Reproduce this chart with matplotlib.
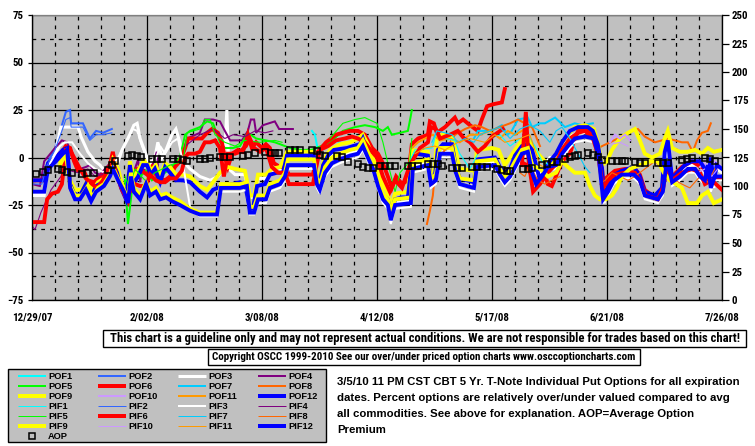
import matplotlib
matplotlib.use('Agg')
import matplotlib.pyplot as plt
from matplotlib import font_manager as fm
from matplotlib.lines import Line2D
from matplotlib.patches import Rectangle
import numpy as np

def pick(fams):
    for f in fams:
        try:
            fm.findfont(fm.FontProperties(family=f), fallback_to_default=False)
            return f
        except Exception:
            pass
    return 'DejaVu Sans'

NARROW = pick(['Liberation Sans Narrow', 'Arial Narrow', 'Roboto Condensed', 'DejaVu Sans Condensed',
               'Noto Sans Condensed', 'Roboto', 'Liberation Sans'])
SANS = pick(['Liberation Sans', 'Arial', 'DejaVu Sans'])

# ---------------- data (x = days since 12/29/07, y = percent) ----------------
date_ticks = [0, 35, 70, 105, 140, 175, 210]
date_labels = ["12/29/07", "2/02/08", "3/08/08", "4/12/08", "5/17/08", "6/21/08", "7/26/08"]
left_ticks = [-75, -50, -25, 0, 25, 50, 75]
right_ticks = [0, 25, 50, 75, 100, 125, 150, 175, 200, 225, 250]

POF1 = [(85.2, 14), (86.1, 12), (87.0, 4), (88.2, 5), (90.1, 7), (92.2, 9), (93.7, 8)]
PIF1 = [(115.0, -2), (116.5, 4), (121.7, 5), (122.9, 12), (125.7, 10), (128.7, 9), (130.2, 2), (133.3, -6),
        (135.7, 2), (139.4, 10), (142.4, 12), (145.5, 6), (148.5, 10), (150.9, 12), (153.1, 6), (155.2, -2), (157.6, -4)]
POF2 = [(0, -12), (3.0, -12), (4.6, -3), (7.0, 5), (9.1, 17), (10.3, 24), (11.6, 25), (11.9, 18), (15.5, 18),
        (17.6, 10), (19.5, 14), (21.6, 13), (24.3, 15)]
PIF2 = [(0, -14), (3.0, -14), (4.6, -4), (7.0, 4), (9.1, 14), (10.3, 20), (11.6, 21), (11.9, 16), (15.5, 16),
        (17.6, 9), (19.5, 12), (21.6, 12), (24.3, 13)]
POF3 = [(0, -20), (3.7, -20), (4.9, -6), (7.0, 2), (8.8, 16), (14.0, 16), (14.9, 11), (17.0, 3), (19.2, -2),
        (20.7, -4), (22.5, -8), (23.7, -10), (24.6, -5), (25.9, -4), (27.4, 4), (29.2, 10), (31.0, 17), (32.0, 18),
        (32.9, 10), (34.4, 3), (35.9, -4), (37.4, 0), (38.3, 8), (39.6, 0), (40.8, 4), (42.6, 12), (43.8, 15),
        (45.0, 8), (46.0, -2), (48.1, -6), (51.1, -10), (54.2, -12), (56.6, -10), (58.4, -6), (59.3, 25), (59.9, -6),
        (61.8, -9), (64.8, -9), (66.3, -21), (67.6, -21), (68.8, -11), (71.2, -11), (73.0, -8), (75.5, -7),
        (77.6, -1), (85.8, -1), (86.7, -14), (87.6, -17), (89.2, -7), (91.3, 1), (95.2, 2), (98.3, 3), (100.7, 7),
        (102.2, 1), (103.8, -5), (105.3, -14), (106.8, -21), (108.3, -24), (109.2, -33), (110.5, -24), (115.3, -23),
        (115.9, -4), (120.5, -2), (121.4, -13), (122.9, -12), (124.2, 3), (127.8, 3), (129.0, -7), (130.2, -15),
        (134.5, -15), (135.4, -3), (140.9, -2), (142.4, -7), (143.9, -12), (145.5, -9), (147.0, -3), (149.1, 4),
        (150.9, 5), (152.2, -6), (154.0, -10), (156.1, -4), (157.6, 0), (159.5, 0), (161.3, 5), (163.7, 11),
        (166.2, 13), (169.2, 13), (170.7, 11), (172.2, 4), (173.5, -9), (174.1, -24), (175.3, -17), (177.4, -11),
        (179.5, -9), (183.2, -7), (185.0, -12), (186.5, -20), (189.6, -22), (191.7, -18), (192.6, 0), (193.5, 6),
        (194.8, -13), (198.7, -6), (200.8, -4), (203.3, -4), (204.8, -8), (205.7, -13), (206.6, -2), (207.5, -16),
        (208.4, -6), (210, -8)]
PIF3 = [(0, -19), (3.7, -19), (5.5, -3), (8.5, 6), (10.0, 8), (12.2, 8), (14.6, 2), (17.0, -3), (19.2, -6),
        (22.2, -8), (23.7, -6), (26.2, 0), (28.6, 8), (30.7, 15), (32.0, 14), (33.5, 6), (35.3, -2), (37.4, -2),
        (39.0, 6), (40.5, 2), (42.6, 8), (44.4, 10), (45.6, 0), (48.1, -26), (51.1, -31), (56.3, -31), (57.5, -18),
        (63.3, -18), (65.4, -17), (66.3, -30), (67.6, -30), (68.8, -24), (71.2, -24), (72.4, -18), (75.5, -16),
        (77.0, -12), (77.9, -6), (85.8, -6), (86.7, -16), (87.6, -19), (89.2, -10), (91.3, -5), (93.7, -3),
        (96.8, -1), (99.2, 0), (100.7, 4), (102.2, -2), (103.8, -8), (105.3, -17), (106.8, -24), (108.3, -27),
        (109.2, -35), (110.5, -27), (115.3, -26), (115.9, -8), (120.5, -6), (121.4, -16), (122.9, -14), (124.2, 0),
        (127.8, 0), (129.0, -10), (130.2, -16), (134.5, -18), (135.4, -7), (140.9, -6), (142.4, -11), (143.9, -15),
        (145.5, -12), (147.0, -7), (149.1, 0), (150.9, 1), (152.2, -10), (153.4, -16), (155.2, -12), (157.0, -7),
        (159.5, -6), (161.3, 0), (163.1, 4), (165.2, 8), (168.3, 9), (171.0, 8), (172.5, -2), (173.8, -24),
        (175.3, -20), (177.1, -14), (179.5, -11), (183.2, -11), (185.0, -14), (186.5, -22), (190.5, -24),
        (192.0, -20), (192.9, -8), (193.5, -4), (194.8, -15), (197.2, -12), (199.6, -8), (201.8, -8), (203.3, -12),
        (204.8, -14), (205.7, -6), (206.6, -18), (207.8, -12), (210, -12)]
POF4 = [(0, -14), (2.4, -15), (3.7, -2), (7.0, 5), (9.1, 9), (10.7, 8), (12.2, 0), (14.6, -6), (16.4, -5),
        (17.6, -4), (19.2, -8), (20.7, -9), (22.2, -6), (23.7, -3), (25, None), (31.3, -6), (32.3, -1), (32.9, -13),
        (33.5, -6), (35.9, -8), (38.0, 3), (38.6, -10), (40.5, -6), (43.5, -4), (46.0, 2), (47.2, 10), (51.1, 13),
        (52.6, 20), (55.1, 20), (57.2, 19), (58.7, 14), (60.3, 9), (63.9, 9), (65.7, 14), (66.6, 20), (67.6, 20),
        (68.2, 13), (70.3, 17), (73.9, 19), (75.2, 15), (79.4, 15)]
PIF4 = [(0, -36), (0.9, -38), (2.7, -29), (5.8, -17), (8.8, -10), (10.3, -4), (11.6, -7), (14.0, -8), (17.0, -6),
        (19.2, -10), (21.3, -9), (23.7, -5), (25, None), (46.6, 6), (51.1, 12), (55.1, 15), (58.7, 10), (61.2, 12),
        (64.8, 11), (67.9, 14), (70.9, 13), (73.3, 14)]
POF5 = [(28.3, -12), (29.2, -35), (30.1, -22), (31.0, -8), (32.9, -10), (34.7, -7), (36.5, -12), (38.3, -10),
        (40.5, -8), (42.6, -5), (45.0, 0), (46.6, 12), (48.1, 14), (51.1, 16), (53.3, 19), (55.1, 18), (57.2, 8),
        (58.7, 5), (61.2, 5), (63.3, 6), (65.7, 13), (68.2, 10), (71.2, 9), (73.9, 8), (75.5, 7), (78.5, 5),
        (81.6, 4), (85.0, 4), (88.0, 6), (90.7, 8), (94.6, 14), (98.3, 16), (101.3, 17), (104.4, 16), (106.8, 14),
        (108.3, 16), (109.5, 12), (112.0, 13), (114.4, 14), (115.3, 22), (115.6, 25)]
PIF5 = [(28.3, -10), (29.8, -16), (31.3, -6), (34.4, -12), (37.4, -8), (42.0, -4), (46.0, -2), (47.2, 13),
        (51.1, 15), (52.6, 20), (54.2, 20), (55.7, 12), (58.7, 8), (61.8, 6), (64.8, 9), (69.4, 8), (73.9, 9),
        (76.1, 8), (77, None), (90.7, 10), (94.6, 18), (98.3, 20), (101.3, 21), (105.0, 18), (106.8, 8),
        (108.3, -3), (110.5, -18), (112.0, -8), (115.0, -2), (115.6, 10)]
POF6 = [(0, -12), (3.7, -12), (4.9, -4), (7.0, 0), (9.1, 3), (10.3, 6), (11.6, 5), (12.8, -2), (14.0, -7),
        (15.8, -7), (17.0, -12), (18.9, -13), (20.7, -10), (22.5, -8), (23.7, -4), (24.6, 3), (25.9, -9),
        (27.4, -15), (28.9, -20), (29.8, -18), (30.7, -8), (32.0, -6), (33.5, -7), (35.0, -9), (36.5, -5),
        (37.7, -9), (39.0, -11), (40.5, -12), (42.0, -10), (43.5, -5), (45.0, -2), (46.6, 5), (47.5, 10),
        (49.6, 10), (51.7, 10), (53.3, 13), (54.8, 15), (56.6, 13), (57.8, 8), (58.7, 0), (59.6, -5), (60.9, 2),
        (62.7, 4), (64.2, 3), (65.7, 12), (66.9, 5), (68.2, 8), (70.0, 5), (71.2, 7), (72.4, 5), (73.6, -3),
        (75.5, -5), (77.0, -5), (78.2, -9), (85.5, -9), (87.0, 3), (89.5, 8), (92.5, 12), (94.6, 13), (96.8, 14),
        (99.2, 14), (101.3, 12), (103.5, 5), (105.3, 2), (106.8, -3), (108.3, -10), (109.5, -16), (110.8, -10),
        (112.6, -14), (114.4, -12), (115.6, 7), (117.5, 10), (120.5, 12), (121.1, 19), (122.3, 18), (123.2, 13),
        (125.7, 16), (128.7, 21), (129.6, 18), (131.2, 20), (133.3, 17), (135.7, 14), (136.9, 20), (138.5, 27),
        (140.3, 28), (143.0, 29), (143.9, 36), (146, None), (148.5, -2), (150.6, -4), (152.2, -10), (154.0, -12),
        (156.1, -9), (157.0, -14), (158.2, -15), (159.2, -11), (161.3, -2), (163.7, 2), (165.2, 10), (166.2, 14),
        (168.3, 15), (170.7, 12), (172.2, 5), (173.5, -6), (173.8, -12), (175.3, -10), (177.4, -7), (180.5, -6),
        (183.5, -6), (185.0, -9), (186.5, -17), (188.7, -20), (191.1, -21), (192.0, -17), (193.2, -4), (194.1, -6),
        (194.8, -10), (197.8, -5), (200.8, -2), (202.7, -4), (204.8, -6), (205.7, -11), (206.9, -9), (208.7, -11),
        (210, -11)]
PIF6 = [(0, -34), (3.7, -34), (4.6, -22), (6.1, -19), (7.9, -18), (9.1, -14), (10.3, 4), (11.6, 4), (12.8, 0),
        (14.6, -6), (16.4, -11), (18.3, -14), (19.8, -16), (21.6, -12), (23.1, -6), (24.6, -2), (25.9, -10),
        (27.4, -17), (29.2, -23), (30.1, -13), (31.3, -14), (32.9, -15), (34.7, -15), (35.9, -9), (37.7, -12),
        (39.0, -13), (40.5, -13), (42.0, -11), (43.8, -11), (45.6, -7), (46.6, 0), (47.5, 2), (49.6, 2), (51.1, 3),
        (52.6, 8), (54.2, 8), (55.7, 9), (57.2, 5), (58.4, -10), (59.6, 2), (61.8, 2), (63.3, 3), (65.1, 6),
        (66.3, 10), (67.6, 5), (69.4, 3), (71.2, 5), (73.0, -5), (74.9, -8), (77.0, -8), (78.2, -14), (85.5, -14),
        (86.4, -6), (87.6, 4), (90.1, 6), (92.5, 9), (95.2, 10), (97.4, 11), (99.2, 10), (101.3, 8), (103.5, 3),
        (105.0, 0), (106.8, -10), (108.9, -18), (110.5, -12), (112.6, -16), (113.8, -10), (115.0, -4), (118.1, 5),
        (120.5, 8), (121.4, 16), (122.9, 15), (124.2, 10), (127.2, 12), (129.6, 14), (131.5, 10), (133.3, 8),
        (135.7, 3), (137.8, 6), (140.0, 11), (143.3, 15), (146, None), (149.1, -4), (150.3, 24), (151.2, -3),
        (152.5, -18), (154.6, -14), (157.0, -8), (159.2, -4), (161.3, 4), (163.7, 10), (166.2, 13), (168.3, 14),
        (170.7, 10), (172.2, 2), (173.8, -16), (175.3, -12), (177.4, -9), (180.5, -8), (183.5, -8), (185.0, -12),
        (186.8, -20), (190.5, -22), (192.0, -16), (193.2, -6), (194.8, -12), (197.8, -8), (200.8, -6), (203.3, -8),
        (204.8, -14), (206.9, -12), (210, -17)]
POF7 = [(134.5, 10), (135.7, 14), (138.8, 14), (140.9, 15), (143.0, 17), (144.8, 12), (146.0, 14), (147.9, 20),
        (150.9, 21), (152.2, 16), (154.6, 18), (156.1, 18), (159.2, 21), (162.2, 16), (165.2, 18), (167.4, 17),
        (170.7, 18)]
PIF7 = [(121.7, 8), (123.2, 14), (125.7, 13), (127.8, 12), (129.6, 8), (131.8, 10), (134.5, 8), (136.3, 12),
        (139.4, 14), (142.4, 16), (145.5, 10), (148.5, 15), (151.5, 17), (154.6, 14), (157.6, 8), (159.5, 14),
        (161.3, 16), (163.7, 10), (166.2, 2), (168.3, -5), (169.8, -8)]
POF8 = [(120.2, -35), (121.1, -28), (122.0, -20), (122.6, -8), (123.2, 0), (124.8, 2), (126.6, 6), (128.7, 12),
        (131.8, 15), (134.8, 17), (136.9, 16), (139.4, 14), (142.4, 16), (145.5, 18), (147.9, 20), (150.0, 18),
        (152.2, 16), (154.6, 6), (160, None), (171.3, 4), (173.5, 6), (175.9, 8), (178.3, 10), (181.4, 13),
        (184.4, 15), (186.5, 11), (189.6, 8), (191.7, 9), (193.5, 10), (195.7, 9), (197.8, 8), (199.6, 8),
        (201.1, 3), (202.4, 9), (203.9, 13), (205.7, 14), (206.6, 18)]
PIF8 = [(148.5, -8), (150.0, -10), (151.5, -4), (154.0, -12), (156.1, -14), (158.2, -12), (160.7, -10),
        (165, None), (172.8, -14), (174.4, -12), (176.5, -8), (178.9, -10), (181.4, -12), (183.5, -10),
        (186.5, -6), (189.6, -2), (192.6, -8), (195.7, -12), (197.8, -14), (200.2, -16), (203.3, -10),
        (205.7, -13), (207.8, -6)]
POF9 = [(8.5, -2), (10.3, 3), (11.6, -12), (13.1, -17), (15.2, -17), (17.0, -12), (18.3, -18), (20.1, -13),
        (21.9, -11), (23.7, -6), (24.6, -1), (26.2, -6), (27.4, -14), (28.9, -19), (29.8, -2), (31.0, -10),
        (32.3, -7), (33.8, -2), (35.0, -2), (36.2, -7), (37.7, -4), (39.0, -10), (40.5, -3), (42.0, -5), (43.8, -9),
        (46.0, -9), (48.1, -10), (51.1, -15), (53.3, -17), (55.1, -13), (57.2, -8), (59.6, -5), (61.8, -6),
        (64.8, -7), (66.3, -20), (67.6, -20), (68.8, -9), (71.2, -9), (73.0, -6), (75.5, -5), (77.6, 3), (85.8, 3),
        (86.7, -8), (87.6, -10), (88.9, -1), (90.7, 4), (93.7, 7), (96.8, 8), (99.2, 10), (100.7, 12), (102.2, 7),
        (103.8, 0), (105.3, -8), (106.8, -14), (108.3, -19), (109.2, -26), (110.5, -19), (114.4, -18), (115.6, 4),
        (120.5, 3), (121.4, -8), (122.6, -6), (123.2, 10), (124.8, 12), (127.8, 11), (128.7, 6), (129.6, -2),
        (130.2, -6), (134.8, -7), (135.4, 4), (140.0, 5), (142.0, 4), (143.9, -4), (145.5, 0), (147.0, 4),
        (149.1, 9), (150.9, 10), (152.2, 7), (154.0, 2), (156.1, -2), (157.6, -4), (159.5, 0), (161.3, 8),
        (163.1, 12), (165.2, 16), (168.3, 17), (171.0, 15), (172.2, 8), (173.5, -4), (175.0, -2), (176.5, 4),
        (178.9, 10), (181.4, 13), (183.5, 15), (185.0, 9), (186.5, 2), (188.7, 0), (191.1, 2), (192.6, 10),
        (193.5, 14), (194.8, 5), (197.2, 3), (199.6, 3), (201.8, 4), (203.9, 2), (205.7, 5), (207.5, 3), (210, 4)]
PIF9 = [(8.5, -4), (10.3, 2), (11.6, -15), (13.1, -20), (15.2, -20), (17.0, -15), (18.3, -21), (20.1, -16),
        (21.9, -14), (23.7, -9), (24.6, -5), (26.2, -11), (28.0, -17), (29.2, -22), (30.1, -8), (31.0, -16),
        (32.9, -20), (34.7, -13), (35.9, -18), (37.7, -16), (39.0, -20), (40.8, -19), (42.6, -21), (45.0, -23),
        (48.1, -27), (51.1, -29), (56.3, -29), (57.5, -14), (63.3, -14), (65.4, -13), (66.3, -26), (67.6, -26),
        (68.8, -20), (71.2, -20), (72.4, -14), (75.5, -12), (77.0, -8), (77.9, -1), (85.8, -1), (86.7, -11),
        (87.6, -14), (89.2, -5), (91.3, 0), (93.7, 2), (96.8, 4), (99.2, 5), (100.7, 9), (102.2, 3), (103.8, -3),
        (105.3, -12), (106.8, -19), (108.3, -22), (109.2, -29), (110.5, -22), (115.3, -21), (115.9, -3),
        (120.5, -1), (121.4, -11), (122.9, -9), (124.2, 5), (127.8, 5), (129.0, -5), (130.2, -11), (134.5, -12),
        (135.4, -2), (140.9, -1), (142.4, -6), (143.9, -10), (145.5, -7), (147.0, -2), (149.1, 4), (150.9, 5),
        (152.2, -4), (154.6, -6), (157.0, -10), (159.5, -8), (161.3, -2), (163.1, -5), (165.2, -8), (168.3, -8),
        (169.8, -15), (171.3, -20), (172.8, -22), (174.7, -22), (176.5, -20), (178.0, -16), (179.5, -10),
        (182.0, -6), (185.0, -4), (188.1, -2), (190.5, -2), (192.3, -8), (194.1, -12), (196.0, -14), (197.8, -16),
        (199.6, -24), (202.4, -24), (203.9, -20), (205.7, -18), (207.5, -24), (210, -22)]
POF10 = [(175.9, 8), (177.4, 12), (178.9, 10), (180.5, 12), (182.0, 9), (190, None), (203.3, -5), (204.8, -3),
         (206.3, -6), (207.8, -2), (209.3, -4)]
PIF10 = [(176.5, 7), (178.9, 8), (181.4, 6), (190, None), (202.7, -8), (204.8, -6), (206.9, -10), (208.7, -6)]
POF11 = [(115.6, 5), (117.5, 8), (119.6, 10), (122.0, 12), (124.2, 9), (127.2, 10), (130.2, 8), (133.3, 12),
         (136.3, 12), (139.4, 14), (142.4, 10), (144.8, 14), (147.0, 12), (149.1, 14), (151.5, 16)]
PIF11 = [(116.5, 2), (119.6, 5), (122.6, 6), (125.7, 4), (129.6, 8), (133.3, 10), (137.8, 8), (140.9, 12),
         (143.9, 8), (148.5, 10), (151.5, 12), (154.6, -4), (157.0, -6)]
POF12 = [(0, -12), (3.7, -12), (4.9, -3), (7.3, 0), (9.4, 4), (10.7, 5), (11.6, -14), (12.8, -19), (14.6, -20),
         (16.4, -14), (18.0, -21), (19.5, -15), (21.6, -13), (23.1, -8), (24.6, -3), (25.9, -8), (27.1, -16),
         (28.6, -22), (29.8, -4), (30.7, -14), (32.3, -10), (33.8, -4), (35.0, -4), (36.2, -9), (37.4, -6),
         (39.0, -13), (40.5, -5), (42.0, -8), (43.8, -12), (46.0, -12), (48.1, -13), (51.1, -18), (53.3, -21),
         (55.1, -17), (57.8, -15), (60.9, -14), (63.3, -13), (64.8, -14), (66.3, -27), (67.2, -27), (68.5, -15),
         (70.9, -14), (72.4, -9), (74.6, -8), (76.4, -8), (77.6, 1), (85.8, 1), (86.7, -12), (87.3, -15),
         (88.6, -4), (90.1, 1), (91.9, 4), (95.9, 5), (97.7, 6), (99.8, 7), (100.7, 10), (101.9, 4), (103.5, -3),
         (105.0, -12), (106.5, -19), (108.3, -22), (109.2, -31), (110.5, -22), (112.6, -21), (114.4, -21),
         (115.6, -2), (116.9, 2), (120.5, 1), (121.4, -11), (122.6, -10), (123.5, 4), (125.1, 7), (127.8, 7),
         (129.0, -5), (130.2, -11), (134.5, -13), (135.4, -1), (140.9, 0), (142.4, -5), (143.9, -8), (145.5, -6),
         (147.0, 1), (149.1, 6), (150.9, 7), (152.2, 4), (153.4, -4), (154.6, -12), (156.1, -6), (157.6, -2),
         (159.5, 2), (161.3, 8), (163.7, 14), (166.2, 16), (169.2, 16), (170.7, 14), (172.2, 7), (173.5, -6),
         (174.1, -22), (175.3, -15), (177.4, -9), (179.5, -7), (183.2, -5), (185.0, -10), (186.5, -18),
         (189.6, -20), (191.7, -16), (192.6, 3), (193.5, 9), (194.8, -11), (198.7, -4), (200.8, -2), (203.3, -2),
         (204.8, -6), (205.7, -11), (206.6, 0), (207.5, -14), (208.4, -4), (210, -6)]
PIF12 = [(0, -18), (3.7, -18), (4.9, -6), (7.3, -2), (9.4, 2), (10.7, 4), (11.6, -16), (13.1, -22), (14.6, -22),
         (16.4, -17), (18.0, -23), (19.5, -18), (21.9, -15), (23.7, -10), (24.6, -6), (26.2, -12), (28.0, -18),
         (29.2, -24), (30.1, -10), (31.0, -18), (32.9, -22), (34.7, -14), (35.9, -20), (37.7, -18), (39.0, -22),
         (40.8, -21), (42.6, -23), (45.0, -25), (48.1, -28), (51.1, -30), (56.3, -30), (57.5, -16), (63.3, -16),
         (65.4, -15), (66.3, -29), (67.6, -29), (68.8, -22), (71.2, -22), (72.4, -16), (75.5, -14), (77.0, -10),
         (77.9, -4), (85.8, -4), (86.7, -14), (87.6, -17), (89.2, -8), (91.3, -3), (93.7, -1), (96.8, 1),
         (99.2, 2), (100.7, 6), (102.2, 0), (103.8, -6), (105.3, -15), (106.8, -22), (108.3, -25), (109.2, -33),
         (110.5, -25), (115.3, -24), (115.9, -6), (120.5, -4), (121.4, -14), (122.9, -12), (124.2, 2), (127.8, 2),
         (129.0, -8), (130.2, -14), (134.5, -16), (135.4, -5), (140.9, -4), (142.4, -9), (143.9, -13),
         (145.5, -10), (147.0, -5), (149.1, 2), (150.9, 3), (152.2, -8), (153.4, -14), (155.2, -10), (157.0, -5),
         (159.5, -4), (161.3, 2), (163.1, 6), (165.2, 10), (168.3, 11), (171.0, 10), (172.5, 0), (173.8, -22),
         (175.3, -18), (177.1, -12), (179.5, -9), (183.2, -9), (185.0, -12), (186.5, -20), (190.5, -22),
         (192.0, -18), (192.9, -6), (193.5, -2), (194.8, -13), (197.2, -10), (199.6, -6), (201.8, -6),
         (203.3, -10), (204.8, -12), (205.7, -4), (206.6, -16), (207.8, -10), (210, -10)]
# Average option premium (right axis)
AOP = [(1.2, 110.4), (3.3, 112.2), (4.9, 113.6), (7.9, 114.5), (9.1, 113.9), (10.7, 112.2), (12.2, 111.3),
       (15.2, 110.4), (16.7, 111), (18.9, 111), (23.1, 113.9), (24.3, 118), (25.3, 122.1), (29.2, 126.2),
       (30.4, 127.6), (32.0, 126.7), (33.2, 125.6), (36.5, 123.8), (38.0, 123.8), (39.6, 124.1), (42.9, 123.8),
       (44.4, 123.8), (46.0, 122.7), (47.2, 122.1), (51.1, 123.3), (52.6, 124.1), (54.2, 124.4), (57.2, 125.6),
       (58.4, 125.6), (60.3, 125.3), (64.2, 126.2), (65.7, 127.6), (67.9, 129), (70.9, 130), (72.7, 129),
       (73.9, 129), (75.2, 129), (78.5, 132), (80.0, 132), (81.6, 131.7), (85.2, 132), (86.7, 130.5),
       (87.6, 127.6), (89.2, 126.7), (92.8, 126.7), (94.3, 125.6), (96.2, 120.9), (99.2, 119.5), (100.7, 116.5),
       (102.2, 116), (103.8, 115.7), (105.9, 117.4), (107.4, 117.8), (108.9, 117.8), (110.5, 117.8),
       (114.4, 117.8), (115.6, 117.8), (117.5, 117.8), (120.5, 119), (122.0, 119), (123.5, 119), (124.8, 117.8),
       (127.8, 116.1), (129.3, 116.1), (130.9, 116.1), (133.9, 117), (135.4, 117), (136.9, 117), (138.5, 117),
       (141.5, 114.5), (143.0, 113.9), (144.5, 113.3), (145.5, 113.3), (149.4, 114.8), (150.9, 114.8),
       (152.2, 115.5), (155.2, 118), (156.7, 119.5), (158.2, 121), (159.8, 121), (162.2, 123.8), (163.7, 125.3),
       (165.2, 126.5), (166.2, 127.6), (169.2, 129), (170.7, 127.3), (172.2, 125.3), (173.5, 122.7),
       (176.5, 122), (178.0, 122), (179.5, 122), (180.5, 122), (183.5, 121.3), (185.0, 120.5), (186.5, 120.5),
       (190.5, 120.5), (192.0, 120.1), (193.5, 120.5), (197.8, 122.7), (199.3, 123.7), (200.8, 124.7),
       (204.8, 124.7), (206.3, 123.3), (207.8, 122)]

# ---------------- styles ----------------
THICK, WHITE_W, MED, THIN = 2.8, 2.2, 1.45, 0.8
series = [
    ('POF1', POF1, '#00FFFF', MED), ('POF2', POF2, '#3366FF', MED), ('POF3', POF3, '#FFFFFF', WHITE_W),
    ('POF4', POF4, '#800080', MED), ('POF5', POF5, '#00FF00', MED), ('POF6', POF6, '#FF0000', THICK),
    ('POF7', POF7, '#00CCFF', MED), ('POF8', POF8, '#FF6600', MED), ('POF9', POF9, '#FFFF00', THICK),
    ('POF10', POF10, '#CC99FF', MED), ('POF11', POF11, '#FF9900', MED), ('POF12', POF12, '#0000FF', THICK),
    ('PIF1', PIF1, '#00FFFF', THIN), ('PIF2', PIF2, '#3366FF', THIN), ('PIF3', PIF3, '#FFFFFF', MED),
    ('PIF4', PIF4, '#800080', THIN), ('PIF5', PIF5, '#00FF00', THIN), ('PIF6', PIF6, '#FF0000', THICK),
    ('PIF7', PIF7, '#00CCFF', THIN), ('PIF8', PIF8, '#FF6600', THIN), ('PIF9', PIF9, '#FFFF00', THICK),
    ('PIF10', PIF10, '#CC99FF', THIN), ('PIF11', PIF11, '#FF9900', THIN), ('PIF12', PIF12, '#0000FF', THICK),
]

W, H = 755, 446
fig = plt.figure(figsize=(W / 100, H / 100), dpi=100)
fig.patch.set_facecolor('white')

def fx(px):
    return px / W

def fy(py):
    return 1 - py / H

ax = fig.add_axes([fx(32), fy(300), 690 / W, 285 / H])
ax.set_facecolor('#C0C0C0')
ax.set_xlim(0, 210)
ax.set_ylim(-75, 75)
ax.set_xticks(date_ticks)
ax.set_xticklabels(date_labels)
ax.set_xticks([d for d in range(7, 210, 7) if d % 35], minor=True)
ax.set_yticks(left_ticks)
ax.set_yticks([-62.5, -37.5, -12.5, 12.5, 37.5, 62.5], minor=True)
ax.grid(which='major', color='black', lw=0.9, ls='-')
ax.grid(which='minor', color='black', lw=0.9, ls=(0, (3, 4)))
ax.set_axisbelow(True)
ax.tick_params(which='minor', length=0)
ax.tick_params(axis='x', which='major', length=0, pad=9)
ax.tick_params(axis='y', which='major', length=3, width=0.9, pad=3, direction='out')
for sp in ['left', 'bottom', 'right']:
    ax.spines[sp].set_color('black')
    ax.spines[sp].set_linewidth(0.9)
ax.spines['top'].set_color('#808080')
ax.spines['top'].set_linewidth(0.9)

for name, pts, col, lw in series:
    d = np.array([p[0] for p in pts], dtype=float)
    v = np.array([np.nan if p[1] is None else p[1] for p in pts], dtype=float)
    ax.plot(d, v, color=col, lw=lw, solid_joinstyle='miter', zorder=3)

ax2 = ax.twinx()
ax2.set_ylim(0, 250)
ax2.set_yticks(right_ticks)
ax2.tick_params(axis='y', length=5, width=0.9, pad=2, direction='out')
ax2.spines['right'].set_color('black')
ax2.spines['top'].set_visible(False)
ax2.patch.set_visible(False)
ax2.plot([p[0] for p in AOP], [p[1] for p in AOP], ls='none', marker='s', ms=4.8,
         mfc='none', mec='black', mew=1.1, zorder=5)

for lab in ax.get_xticklabels() + ax.get_yticklabels() + ax2.get_yticklabels():
    lab.set_fontfamily(NARROW)
    lab.set_fontweight('bold')
    lab.set_fontsize(7.8)

renderer = fig.canvas.get_renderer()

def fit_text(xc, yc, s, width_px, ha='center', **kw):
    t = fig.text(fx(xc), fy(yc), s, ha=ha, va='center', **kw)
    bb = t.get_window_extent(renderer)
    t.set_fontsize(t.get_fontsize() * width_px / bb.width)
    return t

# disclaimer boxes
fig.add_artist(Rectangle((fx(103), fy(347)), 643 / W, 17 / H, transform=fig.transFigure,
                         fc='white', ec='black', lw=1))
fit_text(424.5, 338.5, "This chart is a guideline only and may not represent actual conditions. "
         "We are not responsible for trades based on this chart!", 632,
         family=NARROW, weight='bold', fontsize=9)
fig.add_artist(Rectangle((fx(208), fy(365)), 432 / W, 16 / H, transform=fig.transFigure,
                         fc='white', ec='black', lw=1))
fit_text(424, 357, "Copyright OSCC 1999-2010 See our over/under priced option charts www.osccoptioncharts.com",
         424, family=NARROW, weight='bold', fontsize=9)

# legend box
fig.add_artist(Rectangle((fx(8), fy(442)), 318 / W, 73 / H, transform=fig.transFigure,
                         fc='#C0C0C0', ec='black', lw=1))
col_x = [18, 98, 178, 258]
row_y = [376.2, 386.2, 396.2, 406.2, 416.2, 426.2]
px2pt = 0.72
leg_w = {THICK: 4, WHITE_W: 3, MED: 2, THIN: 1}
LEG_FS = 6.7
for i, (name, pts, col, lw) in enumerate(series):
    r, c = divmod(i, 4)
    y = row_y[r]
    fig.add_artist(Line2D([fx(col_x[c]), fx(col_x[c] + 28)], [fy(y), fy(y)], transform=fig.transFigure,
                          color=col, lw=leg_w[lw] * px2pt, solid_capstyle='butt'))
    fig.text(fx(col_x[c] + 30), fy(y + 0.3), name, ha='left', va='center', family=SANS,
             weight='bold', fontsize=LEG_FS)
fig.add_artist(Line2D([fx(32)], [fy(436.2)], transform=fig.transFigure, ls='none', marker='s', ms=4.8,
                      mfc='none', mec='black', mew=1.1))
fig.text(fx(48), fy(436.5), 'AOP', ha='left', va='center', family=SANS, weight='bold', fontsize=LEG_FS)

info_lines = ["3/5/10 11 PM CST CBT 5 Yr. T-Note Individual Put Options for all expiration",
              "dates. Percent options are relatively over/under valued compared to avg",
              "all commodities. See above for explanation. AOP=Average Option",
              "Premium"]
t0 = fit_text(337, 382, info_lines[0], 401, ha='left', family=SANS, weight='bold', fontsize=8)
fs = t0.get_fontsize()
for k, line in enumerate(info_lines[1:], start=1):
    fig.text(fx(337), fy(382 + 16 * k), line, ha='left', va='center', family=SANS, weight='bold', fontsize=fs)

fig.savefig('out.png', dpi=100, facecolor='white')
